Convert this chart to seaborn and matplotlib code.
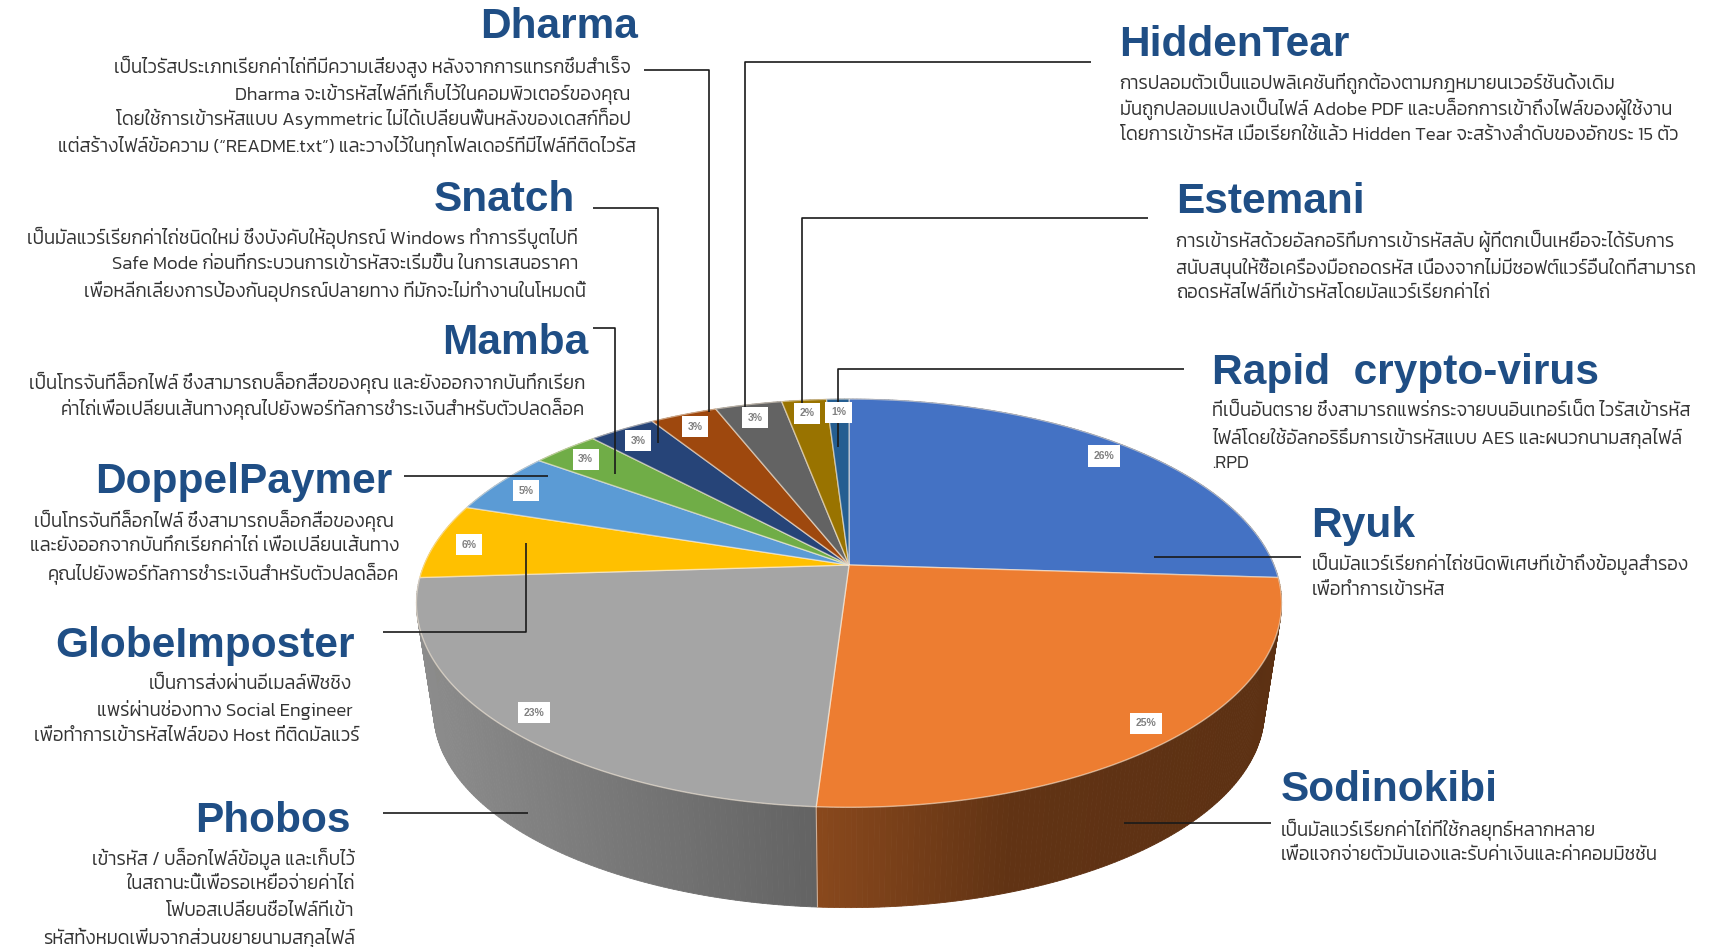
import numpy as np
import matplotlib
matplotlib.use("Agg")
import matplotlib.pyplot as plt
import seaborn as sns

sns.set_theme(style="white")
plt.rcParams["font.family"] = ["Kanit", "Liberation Sans"]

# ==================================================
# Data
# ==================================================
names = ["Ryuk", "Sodinokibi", "Phobos", "GlobeImposter", "DoppelPaymer", "Mamba",
         "Snatch", "Dharma", "HiddenTear", "Estemani", "Rapid crypto-virus"]
shares = [26, 25, 23, 6, 5, 3, 3, 3, 3, 2, 1]
hex_colors = ["#4472C4", "#ED7D31", "#A5A5A5", "#FFC000", "#5B9BD5", "#70AD47",
              "#264478", "#9E480E", "#636363", "#997300", "#255E91"]

dharma_text = [
    "เป็นไวรัสประเภทเรียกค่าไถ่ที่มีความเสี่ยงสูง หลังจากการแทรกซึมสำเร็จ",
    "Dharma จะเข้ารหัสไฟล์ที่เก็บไว้ในคอมพิวเตอร์ของคุณ",
    "โดยใช้การเข้ารหัสแบบ Asymmetric ไม่ได้เปลี่ยนพื้นหลังของเดสก์ท็อป",
    "แต่สร้างไฟล์ข้อความ (“README.txt”) และวางไว้ในทุกโฟลเดอร์ที่มีไฟล์ที่ติดไวรัส",
]
snatch_text = [
    "เป็นมัลแวร์เรียกค่าไถ่ชนิดใหม่ ซึ่งบังคับให้อุปกรณ์ Windows ทำการรีบูตไปที่",
    "Safe Mode ก่อนที่กระบวนการเข้ารหัสจะเริ่มขึ้น ในการเสนอราคา",
    "เพื่อหลีกเลี่ยงการป้องกันอุปกรณ์ปลายทาง ที่มักจะไม่ทำงานในโหมดนี้",
]
mamba_text = [
    "เป็นโทรจันที่ล็อกไฟล์ ซึ่งสามารถบล็อกสื่อของคุณ และยังออกจากบันทึกเรียก",
    "ค่าไถ่เพื่อเปลี่ยนเส้นทางคุณไปยังพอร์ทัลการชำระเงินสำหรับตัวปลดล็อค",
]
doppel_text = [
    "เป็นโทรจันที่ล็อกไฟล์ ซึ่งสามารถบล็อกสื่อของคุณ",
    "และยังออกจากบันทึกเรียกค่าไถ่ เพื่อเปลี่ยนเส้นทาง",
    "คุณไปยังพอร์ทัลการชำระเงินสำหรับตัวปลดล็อค",
]
globe_text = [
    "เป็นการส่งผ่านอีเมลล์ฟิชชิง",
    "แพร่ผ่านช่องทาง Social Engineer",
    "เพื่อทำการเข้ารหัสไฟล์ของ Host ที่ติดมัลแวร์",
]
phobos_text = [
    "เข้ารหัส / บล็อกไฟล์ข้อมูล และเก็บไว้",
    "ในสถานะนี้เพื่อรอเหยื่อจ่ายค่าไถ่",
    "โฟบอสเปลี่ยนชื่อไฟล์ที่เข้า",
    "รหัสทั้งหมดเพิ่มจากส่วนขยายนามสกุลไฟล์",
]
hidden_text = [
    "การปลอมตัวเป็นแอปพลิเคชันที่ถูกต้องตามกฎหมายนเวอร์ชันดั้งเดิม",
    "มันถูกปลอมแปลงเป็นไฟล์ Adobe PDF และบล็อกการเข้าถึงไฟล์ของผู้ใช้งาน",
    "โดยการเข้ารหัส เมื่อเรียกใช้แล้ว Hidden Tear จะสร้างลำดับของอักขระ 15 ตัว",
]
estemani_text = [
    "การเข้ารหัสด้วยอัลกอริทึมการเข้ารหัสลับ ผู้ที่ตกเป็นเหยื่อจะได้รับการ",
    "สนับสนุนให้ซื้อเครื่องมือถอดรหัส เนื่องจากไม่มีซอฟต์แวร์อื่นใดที่สามารถ",
    "ถอดรหัสไฟล์ที่เข้ารหัสโดยมัลแวร์เรียกค่าไถ่",
]
rapid_text = [
    "ที่เป็นอันตราย ซึ่งสามารถแพร่กระจายบนอินเทอร์เน็ต ไวรัสเข้ารหัส",
    "ไฟล์โดยใช้อัลกอริธึมการเข้ารหัสแบบ AES และผนวกนามสกุลไฟล์",
    ".RPD",
]
ryuk_text = [
    "เป็นมัลแวร์เรียกค่าไถ่ชนิดพิเศษที่เข้าถึงข้อมูลสำรอง",
    "เพื่อทำการเข้ารหัส",
]
sodin_text = [
    "เป็นมัลแวร์เรียกค่าไถ่ที่ใช้กลยุทธ์หลากหลาย",
    "เพื่อแจกจ่ายตัวมันเองและรับค่าเงินและค่าคอมมิชชัน",
]

# ==================================================
# Figure, one axes in picture pixels
# ==================================================
fig = plt.figure(figsize=(17.11, 9.47), dpi=100, facecolor="white")
ax = fig.add_axes([0, 0, 1, 1])
ax.set_xlim(0, 1711)
ax.set_ylim(947, 0)
ax.axis("off")

colors = sns.color_palette(hex_colors)

# ==================================================
# Pie geometry (tilted disc with perspective)
# ==================================================
CX, CY = 849, 565
A, B, K = 425, 197, 0.187
DROP, SHRINK = 110, 0.96


def top_xy(angle, r=1.0):
    # angle is clockwise from 12 o'clock
    px = r * np.sin(angle)
    py = r * np.cos(angle)
    d = 1 + K * py
    return CX + A * px / d, CY - B * py / d


def bottom_xy(angle):
    x, y = top_xy(angle)
    return CX + (x - CX) * SHRINK, CY + DROP + (y - CY) * SHRINK


def side_shade(x):
    return np.interp(x, [417, 816, 816.5, 1010, 1280], [0.85, 0.60, 0.58, 0.41, 0.39])


edges = np.cumsum([0] + shares) / sum(shares) * 2 * np.pi

# side wall first, far pieces before near ones; the top face goes over it
quads = []
for start, end, col in zip(edges[:-1], edges[1:], colors):
    steps = np.linspace(start, end, max(int((end - start) * 90), 2) + 1)
    for a0, a1 in zip(steps[:-1], steps[1:]):
        quads.append((a0, a1, col))
quads.sort(key=lambda q: -np.cos((q[0] + q[1]) / 2))

for a0, a1, col in quads:
    xt0, yt0 = top_xy(a0)
    xt1, yt1 = top_xy(a1)
    xb0, yb0 = bottom_xy(a0)
    xb1, yb1 = bottom_xy(a1)
    f = float(side_shade((xt0 + xt1) / 2))
    shade = tuple(c * f for c in col)
    ax.fill([xt0, xt1, xb1, xb0], [yt0, yt1, yb1, yb0], color=shade, lw=0.6, zorder=1)

seam = edges[2]
ax.plot([top_xy(seam)[0], bottom_xy(seam)[0]], [top_xy(seam)[1], bottom_xy(seam)[1]],
        color="#e9d9cc", lw=0.8, alpha=0.7, zorder=2)

# top face
for start, end, col in zip(edges[:-1], edges[1:], colors):
    arc = np.linspace(start, end, 120)
    xs, ys = top_xy(arc)
    ax.fill(np.r_[CX, xs], np.r_[CY, ys], facecolor=col, edgecolor=(1, 0.95, 0.88, 0.55),
            lw=1.0, zorder=3)

# percent labels
for start, end, share in zip(edges[:-1], edges[1:], shares):
    lx, ly = top_xy((start + end) / 2, 0.92)
    ax.text(lx, ly + 2, f"{share}%", ha="center", va="center", fontsize=7.5, color="#808080",
            family="Liberation Sans", weight="bold", zorder=6,
            bbox=dict(facecolor="white", edgecolor="none", pad=4))

# ==================================================
# Leader lines
# ==================================================
S = 1711 / 1568
leaders = [
    [(590, 64), (650, 64), (650, 378)],
    [(543, 191), (603, 191), (603, 406)],
    [(543, 301), (564, 301), (564, 434)],
    [(370, 436), (502, 436)],
    [(351, 579), (482, 579), (482, 498)],
    [(351, 745), (484, 745)],
    [(1000, 57), (683, 57), (683, 375)],
    [(1052, 200), (735, 200), (735, 388)],
    [(1085, 338), (768, 338), (768, 410)],
    [(1192, 510), (1058, 510)],
    [(1165, 754), (1030, 754)],
]
for pts in leaders:
    ax.plot([p[0] * S for p in pts], [p[1] * S for p in pts], color="#1a1a1a", lw=1.2,
            solid_capstyle="butt", zorder=5)

# ==================================================
# Text blocks
# ==================================================
TITLE_COLOR = "#1F4E85"
BODY_COLOR = "#333333"
BODY_SIZE = 13.4


def block(title, tx, ty, lines, lx, ly, ha):
    ax.text(tx * S, (ty + 3) * S, title, ha=ha, va="center", fontsize=30.5, weight="bold",
            color=TITLE_COLOR, family="Liberation Sans", zorder=7)
    for line, x, y in zip(lines, lx, ly):
        ax.text(x * S, y * S, line, ha=ha, va="center", fontsize=BODY_SIZE, weight=300,
                color=BODY_COLOR, zorder=7)


block("Dharma", 585, 22, dharma_text, [578, 578, 578, 583], [61, 85, 109, 133], "right")
block("Snatch", 527, 180, snatch_text, [530, 530, 537], [218, 242, 266], "right")
block("Mamba", 539, 311, mamba_text, [536, 536], [350, 374], "right")
block("DoppelPaymer", 360, 439, doppel_text, [361, 366, 366], [477, 501, 525], "right")
block("GlobeImposter", 325, 589, globe_text, [323, 323, 330], [627, 651, 675], "right")
block("Phobos", 321, 749, phobos_text, [325, 325, 325, 325], [787, 811, 835, 859], "right")
block("HiddenTear", 1026, 38, hidden_text, [1026] * 3, [76, 100, 124], "left")
block("Estemani", 1078, 182, estemani_text, [1078] * 3, [221, 245, 269], "left")
block("Rapid  crypto-virus", 1111, 339, rapid_text, [1111] * 3, [377, 401, 425], "left")
block("Ryuk", 1202, 479, ryuk_text, [1202] * 2, [517, 541], "left")
block("Sodinokibi", 1174, 721, sodin_text, [1174] * 2, [760, 784], "left")

fig.savefig("out.png", dpi=100, facecolor="white")
